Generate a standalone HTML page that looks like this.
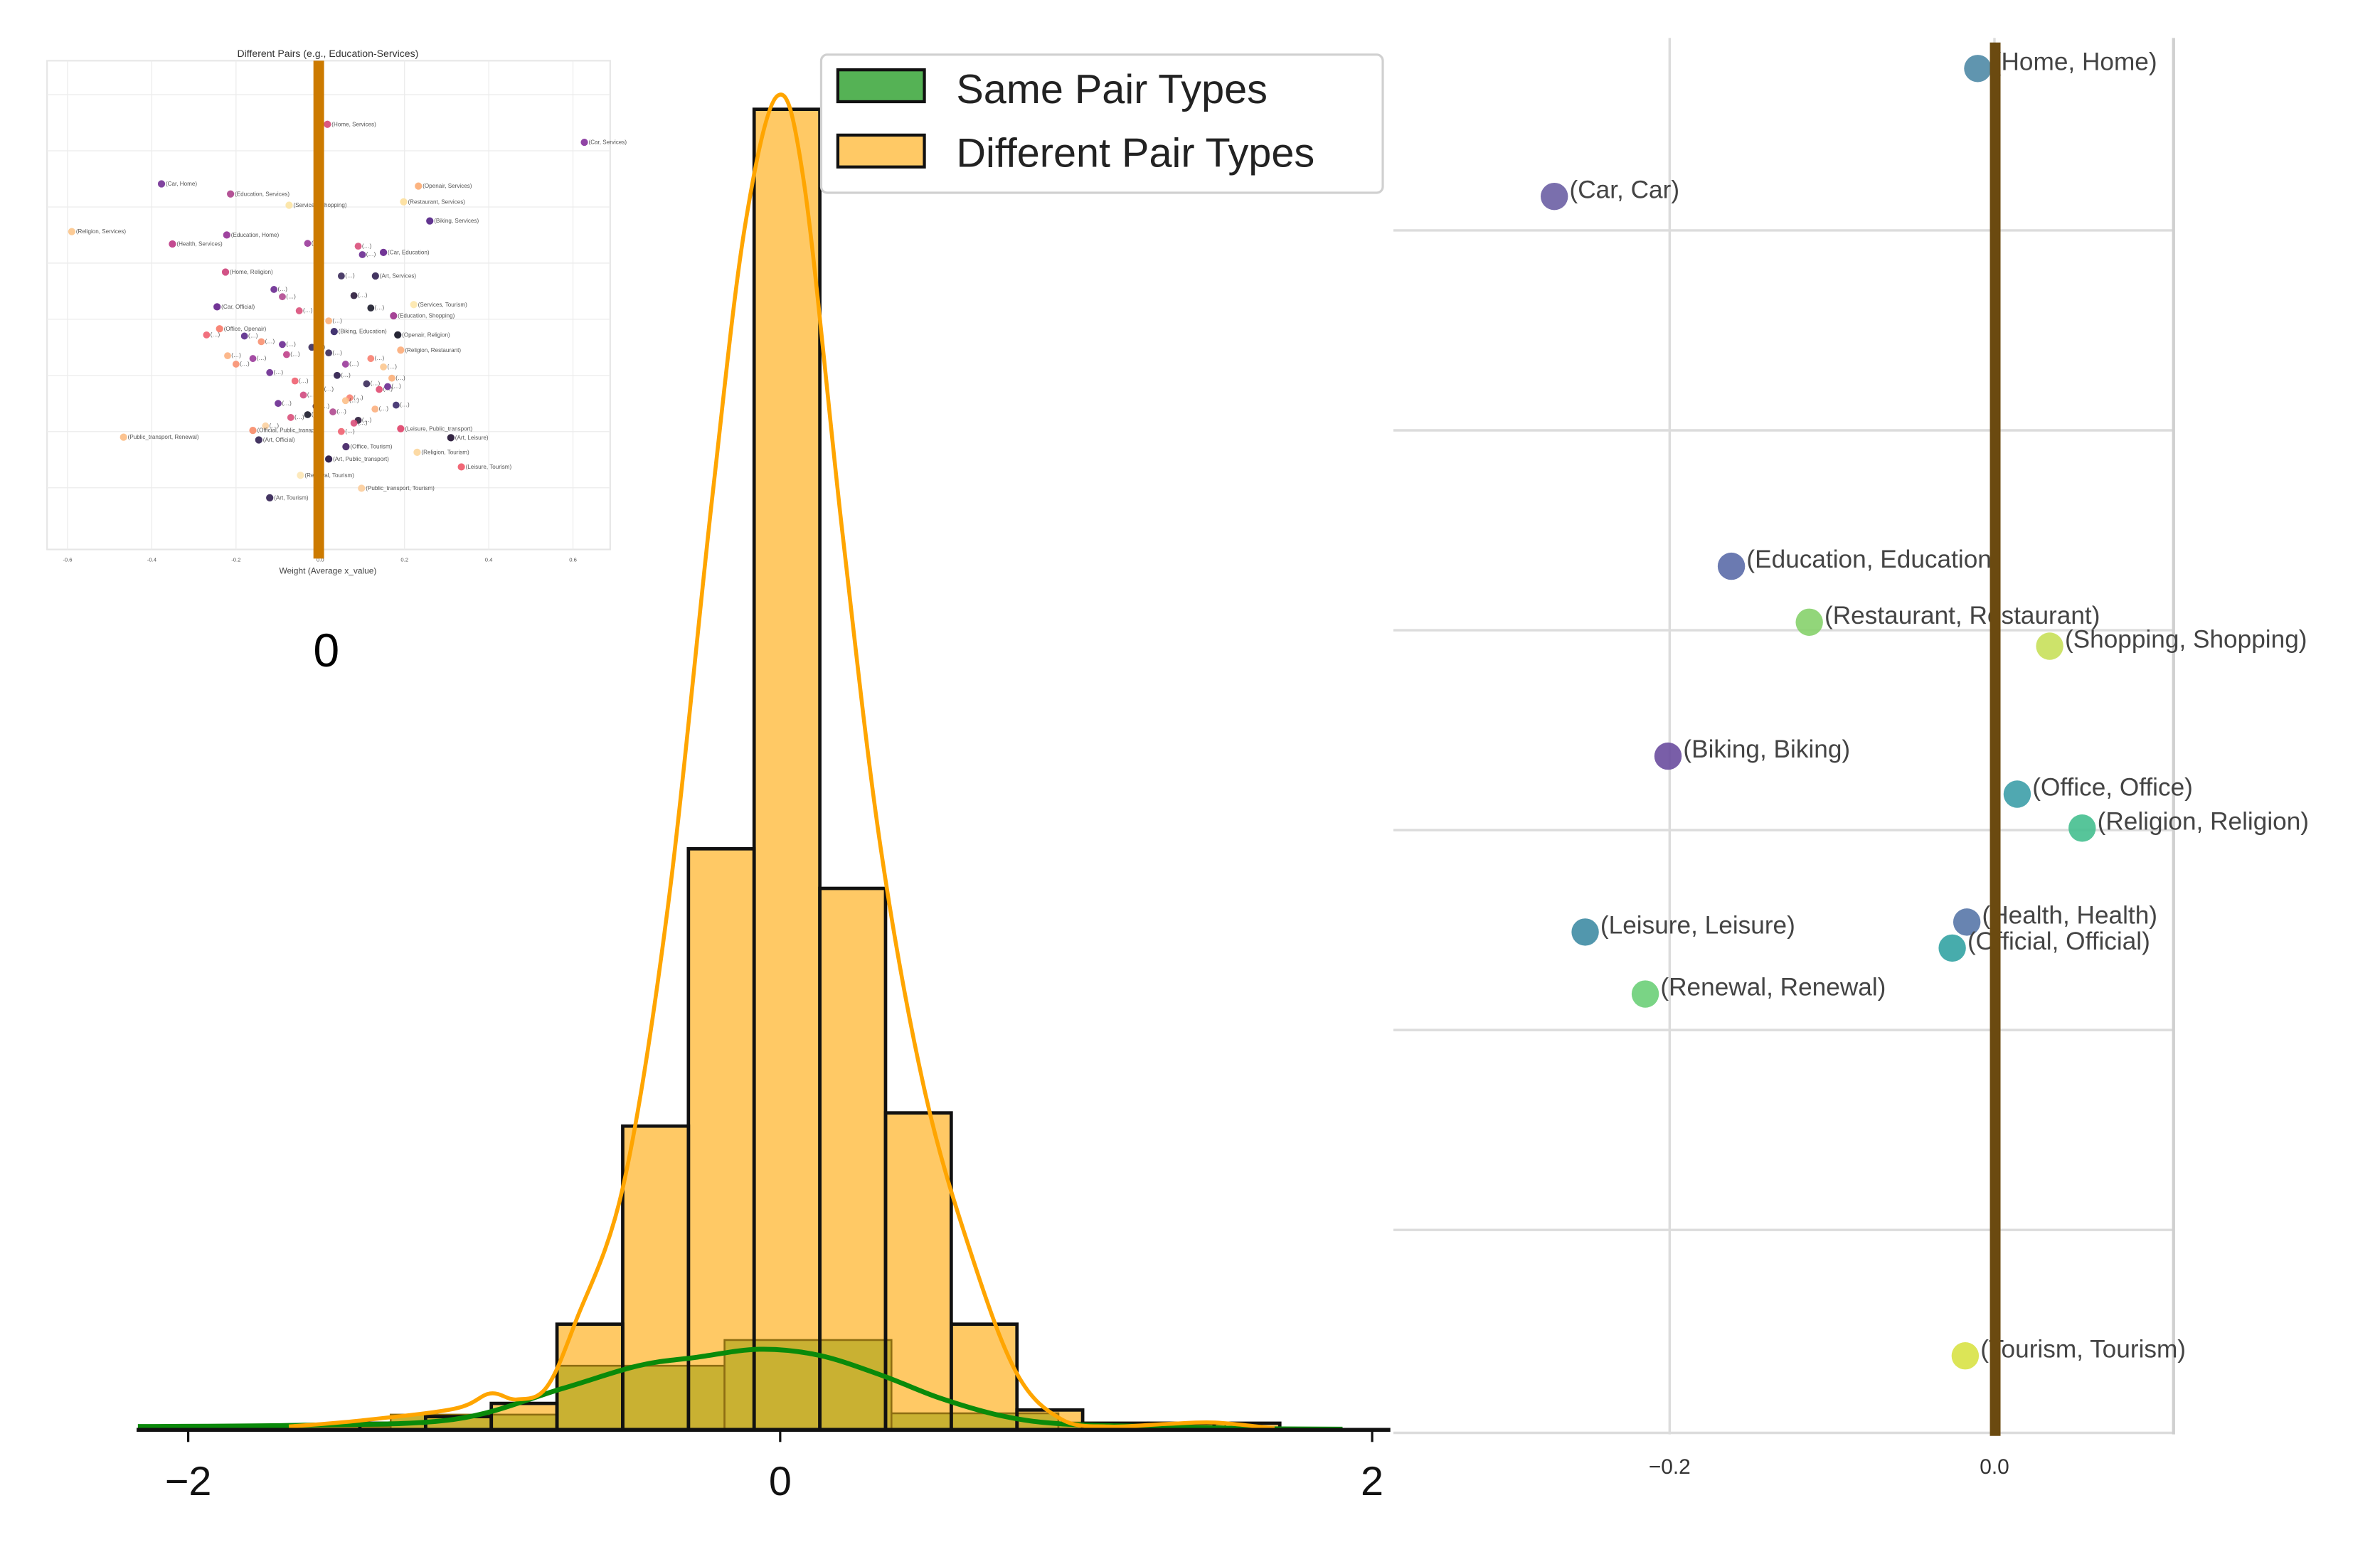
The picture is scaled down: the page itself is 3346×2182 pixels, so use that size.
<!DOCTYPE html>
<html><head><meta charset="utf-8"><style>
html,body{margin:0;padding:0;background:#fff;width:3346px;height:2182px;overflow:hidden}
svg{display:block}
text{font-family:"Liberation Sans",sans-serif}
</style></head><body>
<svg id="chart" width="3346" height="2182" viewBox="0 0 1568 1022.5" preserveAspectRatio="none" xmlns="http://www.w3.org/2000/svg">
<g id="inset"></g>
<g id="hist"></g>
<g id="right"></g>
</svg>
<script>
// ---------- histogram data ----------
const diffStart = -1.42, diffWidth = 0.222;
const diffCounts = [1,2,4,16,46,88,200,82,48,16,3,1,1,1];
const sameStart = -1.88, sameWidth = 0.564;
const sameCounts = [0.5,2.3,9.7,13.6,2.5,1.1];
const diffKdeX = [-1.66,-1.42,-1.1,-0.98,-0.89,-0.79,-0.69,-0.53,-0.38,-0.23,-0.12,-0.01,0.08,0.21,0.34,0.49,0.65,0.8,0.95,1.11,1.31,1.47,1.67];
const diffKdeY = [0.5,1.4,3.2,5.5,4.6,6.4,16.5,37,79,141,182,202,189,136,88,51,26,8.5,1.6,0.5,0.9,1.1,0.2];
const sameKdeX = [-2.17,-1.61,-1.1,-0.74,-0.48,-0.28,-0.07,0.13,0.34,0.54,0.75,0.95,1.26,1.57,1.9];
const sameKdeY = [0.5,0.7,1.6,6.2,9.7,11,12.2,11.3,8.3,4.8,2.1,0.9,0.5,0.2,0.1];
const histTicks = [-2,0,2];

// ---------- right scatter data ----------
const sameLabels = ["(Home, Home)","(Car, Car)","(Education, Education)","(Restaurant, Restaurant)","(Shopping, Shopping)","(Biking, Biking)","(Office, Office)","(Religion, Religion)","(Leisure, Leisure)","(Health, Health)","(Official, Official)","(Renewal, Renewal)","(Tourism, Tourism)"];
const sameX = [-0.0103,-0.271,-0.162,-0.114,0.034,-0.201,0.014,0.054,-0.252,-0.017,-0.026,-0.215,-0.018];
const sameY = [6.81,6.17,4.32,4.04,3.92,3.37,3.18,3.01,2.49,2.54,2.41,2.18,0.37];
const sameColors = ["#4f8aa6","#6b5fa4","#5b6ca8","#86d26c","#c8e05a","#6a4d9e","#3d9ea8","#45bf8f","#3f8ca4","#5877a8","#33a3a3","#6ccf78","#d8e245"];
const rightTicks = [-0.2,0.0];

// ---------- inset data ----------
const insetLabels = ["(Home, Services)","(Car, Services)","(Car, Home)","(Education, Services)","(Services, Shopping)","(Openair, Services)","(Restaurant, Services)","(Religion, Services)","(Biking, Services)","(Education, Home)","(Health, Services)","(Car, Education)","(Home, Religion)","(Art, Services)","(Car, Official)","(Services, Tourism)","(Office, Openair)","(Education, Shopping)","(Religion, Restaurant)","(Public_transport, Renewal)","(Official, Public_transport)","(Art, Official)","(Art, Leisure)","(Religion, Tourism)","(Leisure, Tourism)","(Art, Public_transport)","(Public_transport, Tourism)","(Renewal, Tourism)","(Art, Tourism)","(Office, Tourism)","(Leisure, Public_transport)","(Openair, Religion)","(Biking, Education)"];
const insetX = [0.017,0.627,-0.377,-0.213,-0.074,0.233,0.198,-0.59,0.26,-0.222,-0.351,0.15,-0.225,0.131,-0.245,0.222,-0.239,0.174,0.191,-0.467,-0.16,-0.146,0.31,0.23,0.335,0.02,0.098,-0.047,-0.12,0.061,0.191,0.184,0.033];
const insetY = [7.57,7.25,6.51,6.33,6.13,6.47,6.19,5.66,5.85,5.6,5.44,5.29,4.94,4.87,4.32,4.36,3.93,4.16,3.55,2.0,2.12,1.95,1.99,1.73,1.47,1.61,1.09,1.32,0.92,1.83,2.15,3.82,3.88];
const insetColors = ["#d94f7a","#8a3aa0","#7a3a9a","#b04a90","#fce6a8","#fcb07a","#fde0a0","#fcc890","#5a2a8a","#9a3a9a","#c0408a","#6a2a90","#d04a80","#3a2a5a","#6a2a90","#fde8b0","#f88070","#a03a90","#fcb080","#fcc08a","#f89070","#3a2a5a","#2a1a3a","#fcd8a0","#f06070","#2a1a4a","#fcd0a0","#fde8b8","#3a2a5a","#4a2a6a","#e04a70","#1a1a2a","#3a2a6a"];
const clusterX = [-0.03,0.09,0.1,-0.11,-0.09,0.05,0.12,-0.05,0.02,0.08,-0.14,-0.02,0.06,-0.08,0.15,-0.12,0.04,-0.06,0.11,0.0,-0.04,0.07,-0.1,0.13,-0.01,0.03,-0.07,0.09,-0.13,0.05,0.14,-0.16,0.02,-0.09,0.06,0.17,-0.03,0.08,-0.18,0.12,-0.22,-0.27,0.18,0.16,-0.2];
const clusterY = [5.45,5.4,5.25,4.63,4.5,4.87,4.3,4.25,4.07,4.52,3.7,3.6,3.3,3.47,3.25,3.15,3.1,3.0,2.95,2.85,2.75,2.7,2.6,2.5,2.55,2.45,2.35,2.3,2.2,2.1,2.85,3.4,3.5,3.65,2.65,3.05,2.4,2.25,3.8,3.4,3.45,3.82,2.57,2.9,3.3];
const clusterColors = ["#9a3a9a","#d94f7a","#6a2a90","#6a2a90","#b04a90","#3a2a5a","#1a1a2a","#d94f7a","#fcb07a","#2a1a3a","#f89070","#3a2a5a","#9a3a9a","#c0408a","#fcc890","#6a2a90","#2a1a4a","#f06070","#3a2a5a","#1a1a2a","#d04a80","#f88070","#6a2a90","#fcb080","#3a2a5a","#b04a90","#d94f7a","#2a1a3a","#fcd0a0","#f06070","#e04a70","#9a3a9a","#3a2a5a","#6a2a90","#fcc08a","#fcb07a","#1a1a2a","#d94f7a","#5a2a8a","#f88070","#fcb080","#f06070","#3a2a6a","#6a2a90","#f89070"];
const insetTicks = [-0.6,-0.4,-0.2,0.0,0.2,0.4,0.6];

const NS = "http://www.w3.org/2000/svg";
function mk(parent, tag, attrs, txt){
  const e = document.createElementNS(NS, tag);
  for (const k in attrs) e.setAttribute(k, attrs[k]);
  if (txt !== undefined) e.textContent = txt;
  parent.appendChild(e);
  return e;
}

// ================= INSET =================
const ins = document.getElementById('inset');
const ix = v => 211 + v * 277.5;
const iy = v => 362 - v * 37;
let e = mk(ins,'rect',{x:31,y:40,width:371,height:322,fill:'#fff',stroke:'#e6e6e6','stroke-width':1});


insetTicks.forEach(t=>{
  const g = mk(ins,'line',{x1:ix(t),x2:ix(t),y1:40,y2:362,stroke:'#ececec','stroke-width':0.6});
  
  
  const l = mk(ins,'text',{x:ix(t),y:370,'font-size':3.6,fill:'#555','text-anchor':'middle'}, t.toFixed(1));
  
  
});
[1,2,3,4,5,6,7,8].forEach(v=>{
  const g = mk(ins,'line',{x1:31,x2:402,y1:iy(v+0.05)-1.8,y2:iy(v+0.05)-1.8,stroke:'#ececec','stroke-width':0.6});
  
  
});
e = mk(ins,'text',{x:216,y:37.5,'font-size':6.6,fill:'#333','text-anchor':'middle'},'Different Pairs (e.g., Education-Services)');


e = mk(ins,'text',{x:216,y:378,'font-size':5.6,fill:'#444','text-anchor':'middle'},'Weight (Average x_value)');


clusterX.forEach((v,i)=>{
  const c = mk(ins,'circle',{cx:ix(v),cy:iy(clusterY[i]),r:2.3,fill:clusterColors[i],'fill-opacity':0.9});
  
  
  const t = mk(ins,'text',{x:ix(v)+2.5,y:iy(clusterY[i])+1,'font-size':3.8,fill:'#555'},'(…)');
  
  
});
insetX.forEach((v,i)=>{
  const c = mk(ins,'circle',{cx:ix(v),cy:iy(insetY[i]),r:2.4,fill:insetColors[i],'fill-opacity':0.95});
  
  
  const t = mk(ins,'text',{x:ix(v)+2.8,y:iy(insetY[i])+1.2,'font-size':3.8,fill:'#555'},insetLabels[i]);
  
  
});
e = mk(ins,'rect',{x:206.5,y:40,width:7,height:328,fill:'#cc7a00'});


e = mk(ins,'text',{x:215,y:439,'font-size':31,fill:'#000','text-anchor':'middle'},'0');



// ================= HISTOGRAM =================
const h = document.getElementById('hist');
const hx = v => 514 + v * 195;
const hy = c => 942 - c * 4.35;
diffCounts.forEach((c,i)=>{
  const x0 = hx(diffStart + i*diffWidth), x1 = hx(diffStart + (i+1)*diffWidth);
  const r = mk(h,'rect',{x:x0,y:hy(c),width:x1-x0,height:942-hy(c),fill:'#ffc965'});
  
  
});
sameCounts.forEach((c,i)=>{
  const x0 = hx(sameStart + i*sameWidth), x1 = hx(sameStart + (i+1)*sameWidth);
  const r = mk(h,'rect',{x:x0,y:hy(c),width:x1-x0,height:942-hy(c),fill:'#c9b132',stroke:'#8d6d12','stroke-width':1.2});
  
  
});
diffCounts.forEach((c,i)=>{
  const x0 = hx(diffStart + i*diffWidth), x1 = hx(diffStart + (i+1)*diffWidth);
  const r = mk(h,'rect',{x:x0,y:hy(c),width:x1-x0,height:942-hy(c),fill:'none',stroke:'#111','stroke-width':2.2});
  
  
});
function curve(xs, ys){
  const pts = xs.map((v,i)=>[hx(v),hy(ys[i])]);
  let d = 'M'+pts[0][0]+','+pts[0][1];
  for (let i=0;i<pts.length-1;i++){
    const p0 = pts[Math.max(0,i-1)], p1 = pts[i], p2 = pts[i+1], p3 = pts[Math.min(pts.length-1,i+2)];
    const c1x = p1[0]+(p2[0]-p0[0])/6, c1y = p1[1]+(p2[1]-p0[1])/6;
    const c2x = p2[0]-(p3[0]-p1[0])/6, c2y = p2[1]-(p3[1]-p1[1])/6;
    d += ' C'+c1x+','+Math.min(942,c1y)+' '+c2x+','+Math.min(942,c2y)+' '+p2[0]+','+p2[1];
  }
  return d;
}
e = mk(h,'path',{d:curve(sameKdeX,sameKdeY),fill:'none',stroke:'#0a8a0a','stroke-width':3.2});


e = mk(h,'path',{d:curve(diffKdeX,diffKdeY),fill:'none',stroke:'#ffa500','stroke-width':2.6});


e = mk(h,'line',{x1:90,x2:916,y1:942,y2:942,stroke:'#111','stroke-width':2.6});


histTicks.forEach(t=>{
  const l = mk(h,'line',{x1:hx(t),x2:hx(t),y1:942,y2:950,stroke:'#111','stroke-width':1.5});
  
  
  const tx = mk(h,'text',{x:hx(t),y:985,'font-size':27,fill:'#111','text-anchor':'middle'}, t<0?'\u2212'+Math.abs(t):String(t));
  
  
});
const lg = mk(h,'g',{});


e = mk(lg,'rect',{x:541,y:36,width:370,height:91,rx:4,fill:'#fff',stroke:'#d0d0d0','stroke-width':1.5});


e = mk(lg,'rect',{x:552,y:46,width:57,height:21,fill:'#55b255',stroke:'#111','stroke-width':2});


e = mk(lg,'text',{x:630,y:68,'font-size':27,fill:'#222'},'Same Pair Types');


e = mk(lg,'rect',{x:552,y:89,width:57,height:21,fill:'#ffc965',stroke:'#111','stroke-width':2});


e = mk(lg,'text',{x:630,y:110,'font-size':27,fill:'#222'},'Different Pair Types');



// ================= RIGHT SCATTER =================
const rg = document.getElementById('right');
const rx = v => 1314 + v * 1070;
const ry = v => 942 - v * 131.7;
[0,1,2,3,4,5,6].forEach(v=>{
  const l = mk(rg,'line',{x1:918,x2:1432,y1:ry(v)+(v===0?2:0),y2:ry(v)+(v===0?2:0),stroke:'#dcdcdc','stroke-width':1.6});
  
  
});
rightTicks.forEach(t=>{
  const l = mk(rg,'line',{x1:rx(t),x2:rx(t),y1:25,y2:945,stroke:'#dcdcdc','stroke-width':1.6});
  
  
  const tx = mk(rg,'text',{x:rx(t),y:971,'font-size':14,fill:'#333','text-anchor':'middle'}, t<0?'\u2212'+Math.abs(t).toFixed(1):t.toFixed(1));
  
  
});
e = mk(rg,'line',{x1:1432,x2:1432,y1:25,y2:945,stroke:'#d0d0d0','stroke-width':2});


sameX.forEach((v,i)=>{
  const c = mk(rg,'circle',{cx:rx(v),cy:ry(sameY[i]),r:9,fill:sameColors[i],'fill-opacity':0.9});
  
  
  const t = mk(rg,'text',{x:rx(v)+10,y:ry(sameY[i])+1,'font-size':16.5,fill:'#444'},sameLabels[i]);
  
  
});
e = mk(rg,'rect',{x:rx(0)-3,y:28,width:7,height:918,fill:'#6b4a10'});


</script>
</body></html>
